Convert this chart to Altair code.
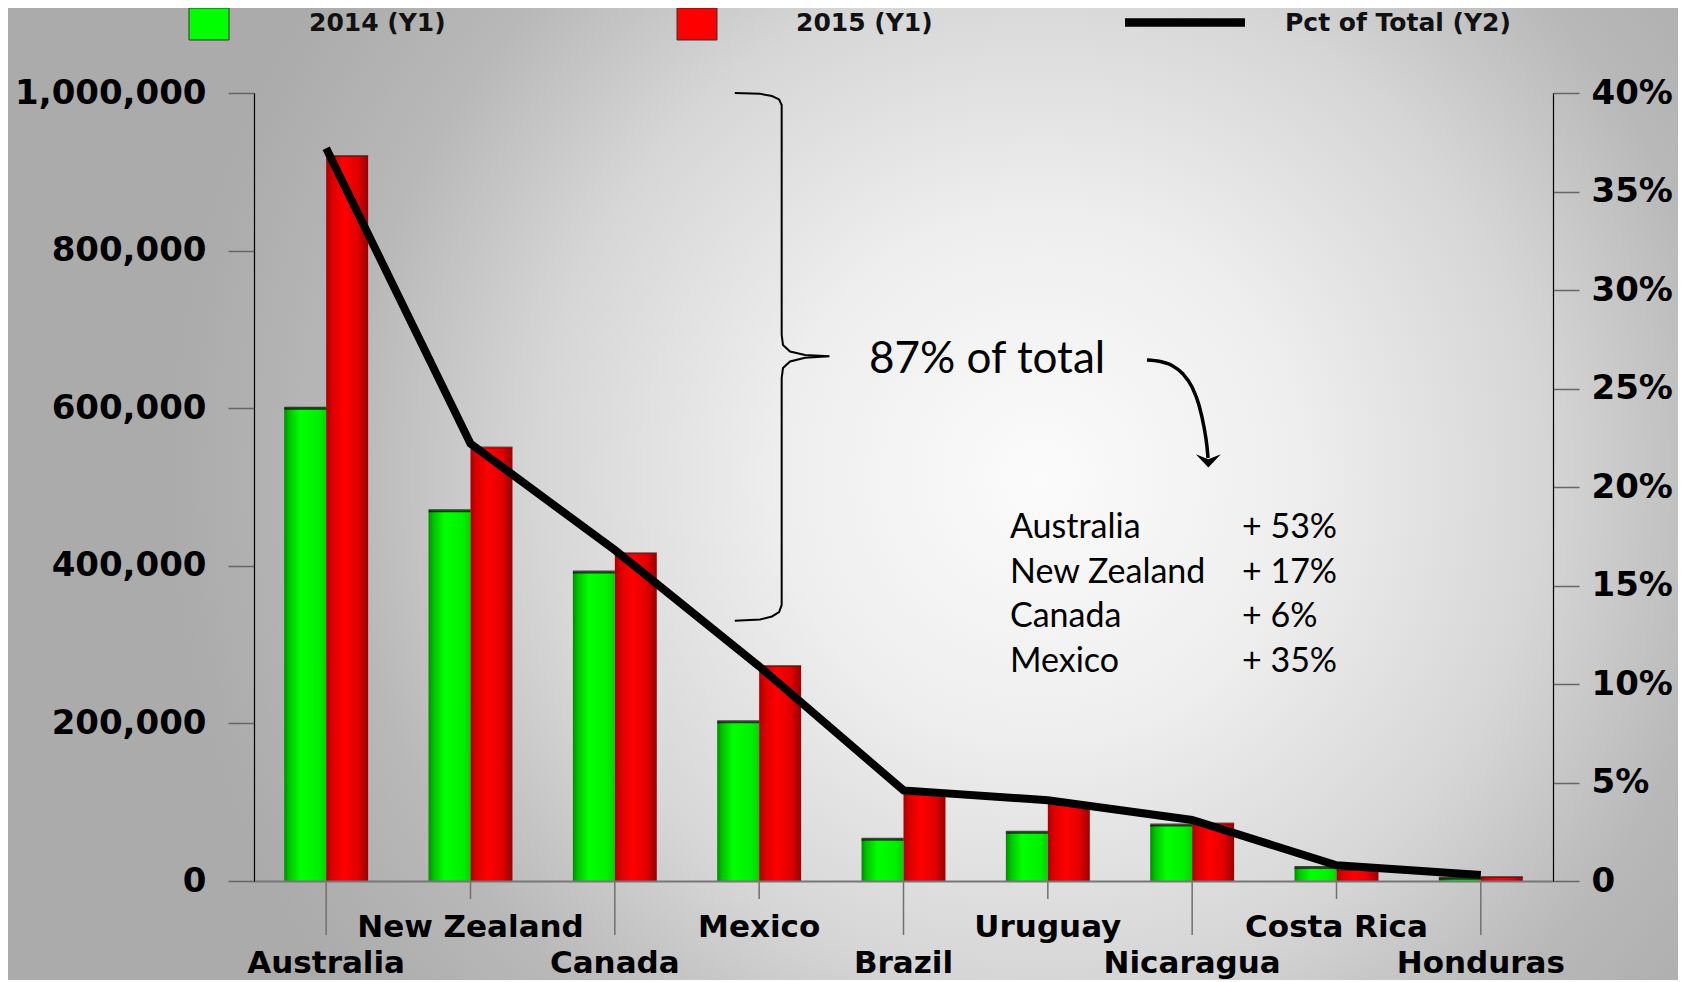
import altair as alt
import pandas as pd

# ---------------- data ----------------
countries = ["Australia", "New Zealand", "Canada", "Mexico", "Brazil",
             "Uruguay", "Nicaragua", "Costa Rica", "Honduras"]
values_2014 = [600000, 470000, 392000, 202000, 53000, 62000, 71000, 17000, 3500]
values_2015 = [920000, 550000, 416000, 273000, 110000, 99000, 73000, 14000, 5000]
pct_of_total = [0.372, 0.222, 0.168, 0.109, 0.046, 0.041, 0.031, 0.008, 0.003]
years = ["2014", "2015"]
legend_labels = ["2014 (Y1)", "2015 (Y1)", "Pct of Total (Y2)"]
y1_ticks = [0, 200000, 400000, 600000, 800000, 1000000]
y2_ticks = [0, 0.05, 0.10, 0.15, 0.20, 0.25, 0.30, 0.35, 0.40]
callout_text = "87% of total"
growth_names = ["Australia", "New Zealand", "Canada", "Mexico"]
growth_pcts = ["+ 53%", "+ 17%", "+ 6%", "+ 35%"]

# annotation shapes in chart units (x: category slots 0..9, y: left-axis units)
brace_x = [3.331, 3.506, 3.589, 3.638, 3.656, 3.656, 3.665, 3.714, 3.818, 3.987,
           3.818, 3.714, 3.665, 3.656, 3.656, 3.638, 3.589, 3.506, 3.331]
brace_y = [1000000, 999000, 996200, 991800, 984800, 692900, 680200, 672000, 667500, 665900,
           664000, 659300, 651000, 638300, 350300, 341400, 335700, 331900, 330200]
arrow_x = [6.187, 6.277, 6.360, 6.437, 6.499, 6.547, 6.582, 6.603, 6.610]
arrow_y = [661200, 659300, 654200, 643400, 626900, 604100, 576100, 550800, 536800]
arrow_tip_x = [6.612]
arrow_tip_y = [533600]

# ---------------- layout / style ----------------
W, H = 1299, 788
PAD = {"left": 246, "top": 85, "right": 125, "bottom": 99}
FONT_AXIS = "DejaVu Sans"
FONT_NOTE = "Lato"

bars_df = pd.DataFrame({
    "country": countries * 2,
    "year": [years[0]] * len(countries) + [years[1]] * len(countries),
    "value": values_2014 + values_2015,
})
pct_df = pd.DataFrame({"country": countries, "pct": pct_of_total,
                       "idx": list(range(len(countries)))})
cat_df = pd.DataFrame({"country": countries})
upper_row = countries[1::2]
lower_row = countries[0::2]
brace_df = pd.DataFrame({"bx": brace_x, "by": brace_y, "i": list(range(len(brace_x)))})
arrow_df = pd.DataFrame({"ax": arrow_x, "ay": arrow_y, "i": list(range(len(arrow_x)))})
tip_df = pd.DataFrame({"ax": arrow_tip_x, "ay": arrow_tip_y})
growth_df = pd.DataFrame({"name": growth_names, "pct": growth_pcts})
one = pd.DataFrame({"k": [0]})


def grad(stops):
    return alt.LinearGradient(
        gradient="linear", x1=0, x2=1, y1=0, y2=0,
        stops=[alt.GradientStop(color=c, offset=o) for o, c in stops])


green_fill = grad([(0, "#008c00"), (0.12, "#00c400"), (0.38, "#00ff00"),
                   (0.8, "#00f200"), (1, "#00d400")])
red_fill = grad([(0, "#a80000"), (0.15, "#dc0000"), (0.42, "#ff0000"),
                 (0.75, "#e20000"), (1, "#9c0000")])

bg_fill = alt.RadialGradient(
    gradient="radial", x1=0.618, y1=0.49, r1=0, x2=0.618, y2=0.49, r2=0.52,
    stops=[alt.GradientStop(color="#fbfbfb", offset=0),
           alt.GradientStop(color="#eeeeee", offset=0.3),
           alt.GradientStop(color="#d6d6d6", offset=0.58),
           alt.GradientStop(color="#b8b8b8", offset=0.8),
           alt.GradientStop(color="#ababab", offset=1)])

x_band = alt.Scale(domain=countries, paddingInner=0, paddingOuter=0)
x_point = alt.Scale(domain=countries)
off_scale = alt.Scale(domain=years, paddingInner=0, paddingOuter=0.72)
y1_scale = alt.Scale(domain=[0, 1000000], nice=False)
y2_scale = alt.Scale(domain=[0, 0.4], nice=False)

common_axis = dict(title=None, grid=False, tickSize=26, tickColor="#666666", tickWidth=1.5,
                   domainColor="#000000", domainWidth=1.2, labelFont=FONT_AXIS,
                   labelFontWeight="bold", labelFontSize=34, labelColor="#000000",
                   labelLimit=0, zindex=1)
y1_axis = alt.Axis(values=y1_ticks, format=",d", labelPadding=22, **common_axis)
y2_axis = alt.Axis(orient="right", values=y2_ticks, labelPadding=12,
                   labelExpr="datum.value == 0 ? '0' : format(datum.value, '.0%')",
                   **common_axis)
x_axis = alt.Axis(labels=False, ticks=False, title=None, domainColor="#777777",
                  domainWidth=2, grid=False, zindex=1)

# ---------------- layers ----------------
bg = alt.Chart(one).mark_rect(fill=bg_fill).encode(
    x=alt.value(-PAD["left"]), x2=alt.value(W + PAD["right"]),
    y=alt.value(-PAD["top"]), y2=alt.value(H + PAD["bottom"]))

bars14 = alt.Chart(bars_df).transform_filter(alt.datum.year == years[0]).mark_bar(
    fill=green_fill).encode(
    x=alt.X("country:N", scale=x_band, axis=x_axis),
    xOffset=alt.XOffset("year:N", scale=off_scale),
    y=alt.Y("value:Q", scale=y1_scale, axis=y1_axis))

bars15 = alt.Chart(bars_df).transform_filter(alt.datum.year == years[1]).mark_bar(
    fill=red_fill).encode(
    x=alt.X("country:N", scale=x_band, axis=None),
    xOffset=alt.XOffset("year:N", scale=off_scale),
    y=alt.Y("value:Q", scale=y1_scale, axis=None))

caps14 = alt.Chart(bars_df).transform_filter(alt.datum.year == years[0]).mark_tick(
    color="#000000", thickness=3, size=42).encode(
    x=alt.X("country:N", scale=x_band, axis=None),
    xOffset=alt.XOffset("year:N", scale=off_scale),
    y=alt.Y("value:Q", scale=y1_scale, axis=None))

caps15 = alt.Chart(bars_df).transform_filter(alt.datum.year == years[1]).mark_tick(
    color="#5a1010", thickness=2, size=42).encode(
    x=alt.X("country:N", scale=x_band, axis=None),
    xOffset=alt.XOffset("year:N", scale=off_scale),
    y=alt.Y("value:Q", scale=y1_scale, axis=None))

line = alt.Chart(pct_df).mark_line(color="#000000", strokeWidth=8).encode(
    x=alt.X("country:N", scale=x_point, axis=None),
    y=alt.Y("pct:Q", scale=y2_scale, axis=y2_axis),
    order=alt.Order("idx:Q"))

tick_short = alt.Chart(cat_df).transform_filter(
    alt.FieldOneOfPredicate(field="country", oneOf=upper_row)).mark_rule(
    color="#707070", strokeWidth=1.5).encode(
    x=alt.X("country:N", scale=x_point, axis=None),
    y=alt.value(H), y2=alt.value(H + 18))

tick_long = alt.Chart(cat_df).transform_filter(
    alt.FieldOneOfPredicate(field="country", oneOf=lower_row)).mark_rule(
    color="#707070", strokeWidth=1.5).encode(
    x=alt.X("country:N", scale=x_point, axis=None),
    y=alt.value(H), y2=alt.value(H + 54))

label_kw = dict(font=FONT_AXIS, fontWeight="bold", fontSize=31, color="#000000",
                baseline="middle", align="center")
labels_upper = alt.Chart(cat_df).transform_filter(
    alt.FieldOneOfPredicate(field="country", oneOf=upper_row)).mark_text(**label_kw).encode(
    x=alt.X("country:N", scale=x_point, axis=None), y=alt.value(H + 47), text="country:N")
labels_lower = alt.Chart(cat_df).transform_filter(
    alt.FieldOneOfPredicate(field="country", oneOf=lower_row)).mark_text(**label_kw).encode(
    x=alt.X("country:N", scale=x_point, axis=None), y=alt.value(H + 83), text="country:N")

slot_scale = alt.Scale(domain=[0, 9], nice=False, zero=False)
brace = alt.Chart(brace_df).mark_line(color="#000000", strokeWidth=2).encode(
    x=alt.X("bx:Q", scale=slot_scale, axis=None),
    y=alt.Y("by:Q", scale=y1_scale, axis=None),
    order=alt.Order("i:Q"))

arrow = alt.Chart(arrow_df).mark_line(color="#000000", strokeWidth=3.5,
                                      interpolate="monotone").encode(
    x=alt.X("ax:Q", scale=slot_scale, axis=None),
    y=alt.Y("ay:Q", scale=y1_scale, axis=None),
    order=alt.Order("i:Q"))

arrow_head = alt.Chart(tip_df).mark_point(
    shape="M-1,-0.5L0,0.55L1,-0.5L0,-0.1Z", size=625, filled=True,
    color="#000000", opacity=1).encode(
    x=alt.X("ax:Q", scale=slot_scale, axis=None),
    y=alt.Y("ay:Q", scale=y1_scale, axis=None))

callout = alt.Chart(pd.DataFrame({"t": [callout_text]})).mark_text(
    font=FONT_NOTE, fontSize=44, align="left", baseline="middle", color="#000000").encode(
    x=alt.value(615), y=alt.value(267), text="t:N")

row_scale = alt.Scale(type="point", domain=growth_names, range=[435, 569], padding=0)
growth_name_txt = alt.Chart(growth_df).mark_text(
    font=FONT_NOTE, fontSize=34, align="left", baseline="middle", color="#000000").encode(
    x=alt.value(756), y=alt.Y("name:N", scale=row_scale, axis=None), text="name:N")
growth_pct_txt = alt.Chart(growth_df).mark_text(
    font=FONT_NOTE, fontSize=34, align="left", baseline="middle", color="#000000").encode(
    x=alt.value(988), y=alt.Y("name:N", scale=row_scale, axis=None), text="pct:N")

# legend (drawn by hand, top strip)
leg_y = -70.4
leg_font = dict(font=FONT_AXIS, fontWeight="bold", fontSize=25, color="#111111",
                align="left", baseline="middle")
leg_green = alt.Chart(one).mark_rect(fill="#00ff00", stroke="#333333", strokeWidth=1).encode(
    x=alt.value(-65), x2=alt.value(-25), y=alt.value(-85), y2=alt.value(-53))
leg_red = alt.Chart(one).mark_rect(fill="#ff0000", stroke="#333333", strokeWidth=1).encode(
    x=alt.value(423), x2=alt.value(463), y=alt.value(-85), y2=alt.value(-53))
leg_line = alt.Chart(one).mark_rule(color="#000000", strokeWidth=8.5).encode(
    x=alt.value(871), x2=alt.value(991), y=alt.value(leg_y))
leg_t1 = alt.Chart(pd.DataFrame({"t": [legend_labels[0]]})).mark_text(**leg_font).encode(
    x=alt.value(55), y=alt.value(leg_y), text="t:N")
leg_t2 = alt.Chart(pd.DataFrame({"t": [legend_labels[1]]})).mark_text(**leg_font).encode(
    x=alt.value(542), y=alt.value(leg_y), text="t:N")
leg_t3 = alt.Chart(pd.DataFrame({"t": [legend_labels[2]]})).mark_text(**leg_font).encode(
    x=alt.value(1031), y=alt.value(leg_y), text="t:N")

chart = alt.layer(
    bg, bars14, bars15, caps14, caps15, line,
    tick_short, tick_long, labels_upper, labels_lower,
    brace, arrow, arrow_head, callout, growth_name_txt, growth_pct_txt,
    leg_green, leg_red, leg_line, leg_t1, leg_t2, leg_t3,
).resolve_scale(
    x="independent", y="independent"
).properties(
    width=W, height=H, padding=PAD, autosize=alt.AutoSizeParams(type="none")
).configure(background="#c8c8c8").configure_view(strokeWidth=0)

chart.save("out.html", embed_options={"renderer": "svg", "actions": False})
